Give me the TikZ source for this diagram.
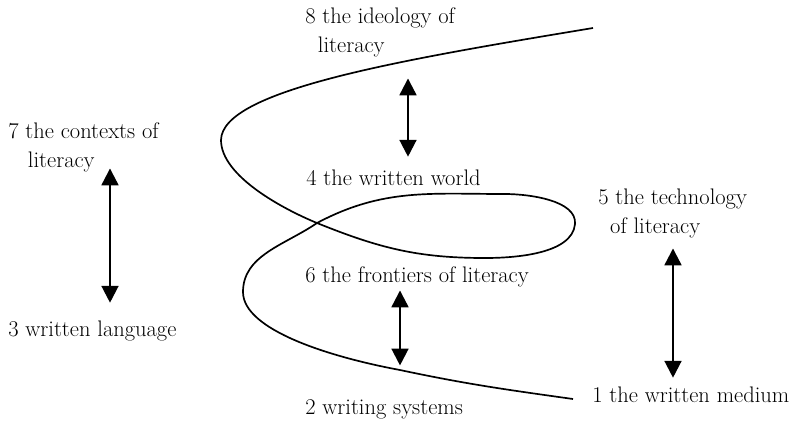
\documentclass[tikz,border=0pt]{standalone}
\usepackage{fontspec}
\usetikzlibrary{arrows.meta}

\begin{document}
\begin{tikzpicture}[x=0.025cm, y=-0.025cm,
    label/.style={anchor=base west, inner sep=0pt, align=left,
        font=\fontsize{16}{20}\selectfont},
    twoway/.style={{Triangle[length=0.42cm,width=0.42cm]}-{Triangle[length=0.42cm,width=0.42cm]},
        line width=1.6pt}]
    \useasboundingbox (0,0) rectangle (804,424);

    % --- Beschriftungen (Anker = Grundlinie der letzten Zeile) ---
    % oben / Mitte
    \node[label] (ideology) at (305,52) {8 the ideology of\\\hspace{9pt}literacy};
    \node[label] (world) at (306,185) {4 the written world};
    \node[label] (frontiers) at (305,282) {6 the frontiers of literacy};
    \node[label] (systems) at (305,414) {2 writing systems};
    % links
    \node[label] (contexts) at (8,167) {7 the contexts of\\\hspace{14pt}literacy};
    \node[label] (language) at (8,336) {3 written language};
    % rechts
    \node[label] (technology) at (598,233) {5 the technology\\\hspace{8.5pt}of literacy};
    \node[label] (medium) at (592,402) {1 the written medium};

    % --- Doppelpfeile ---
    \draw[twoway, shorten <=0.54cm, shorten >=0.31cm] (ideology.south -| 408,0) -- (world.north -| 408,0);
    \draw[twoway, shorten <=-0.085cm, shorten >=0.435cm] (contexts.south -| 110,0) -- (language.north -| 110,0);
    \draw[twoway, shorten <=0.09cm, shorten >=0.835cm] (frontiers.south -| 400,0) -- (systems.north -| 400,0);
    \draw[twoway, shorten <=0.265cm, shorten >=0.21cm] (technology.south -| 673,0) -- (medium.north -| 673,0);

    % --- Kurve (S-foermig mit zwei Schleifen) ---
    \draw[line width=1.2pt] (593,28)
        .. controls (400,60) and (222,90) .. (221,140)
        .. controls (221,176) and (283,209) .. (317,223)
        to[out=338, in=180] (485,258)
        to[out=0, in=265, looseness=0.8] (575,224)
        to[out=85, in=0, looseness=0.8] (505,194)
        to[out=180, in=28] (317,223)
        .. controls (285,245) and (243,255) .. (243,292)
        .. controls (243,330) and (330,357) .. (400,370)
        to[out=348, in=172] (573,399);
\end{tikzpicture}
\end{document}
